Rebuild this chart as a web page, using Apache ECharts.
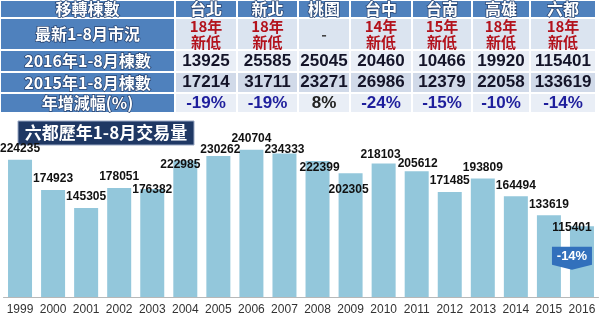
<!DOCTYPE html>
<html>
<head>
<meta charset="utf-8">
<script src="https://cdn.jsdelivr.net/npm/echarts@6/dist/echarts.min.js"></script>
<style>html,body{margin:0;padding:0;background:#fff;}#c{width:600px;height:318px;}</style>
</head>
<body>
<div id="c"></div>
<script>
// ---- table data ----
var rowLabels = ['移轉棟數', '最新1-8月市況', '2016年1-8月棟數', '2015年1-8月棟數', '年增減幅(%)'];
var cities = ['台北', '新北', '桃園', '台中', '台南', '高雄', '六都'];
var marketStatus = ['18年\n新低', '18年\n新低', '-', '14年\n新低', '15年\n新低', '18年\n新低', '18年\n新低'];
var units2016 = [13925, 25585, 25045, 20460, 10466, 19920, 115401];
var units2015 = [17214, 31711, 23271, 26986, 12379, 22058, 133619];
var yoyChange = ['-19%', '-19%', '8%', '-24%', '-15%', '-10%', '-14%'];

// ---- chart data ----
var chartTitle = '六都歷年1-8月交易量';
var years = ['1999','2000','2001','2002','2003','2004','2005','2006','2007','2008','2009','2010','2011','2012','2013','2014','2015','2016'];
var volumes = [224235,174923,145305,178051,176382,222985,230262,240704,234333,222399,202305,218103,205612,171485,193809,164494,133619,115401];

// ---- layout / style (not data) ----
var labelNudge = [[0,0],[0,0],[0,0],[0,0],[0,12],[-5,15],[2,5],[0,0],[0,7],[2,18],[-2,27],[-3,2],[1,4],[0,0],[0,0],[0,0],[0,0],[-10,12]];
var colEdges = [0, 175, 237, 298, 350, 412, 472, 530, 596];
var rowEdges = [0, 18, 50, 72, 93, 113];
var rowFill = ['#4f81bd', '#dbe4f0', '#e9eef6', '#d1dae9', '#e9eef6'];
var headBlue = '#4f81bd';
var cjk = '"Noto Sans CJK TC","Noto Sans CJK SC",sans-serif';
var latin = '"Liberation Sans",Arial,sans-serif';

var graphics = [];
function cellRect(c, r, fill) {
  graphics.push({type:'rect', silent:true, shape:{x:colEdges[c]+1, y:rowEdges[r]+1, width:colEdges[c+1]-colEdges[c]-2, height:rowEdges[r+1]-rowEdges[r]-2}, style:{fill:fill}});
}
function cellText(c, r, text, style) {
  var s = {text:text, x:(colEdges[c]+colEdges[c+1])/2, y:(rowEdges[r]+rowEdges[r+1])/2, align:'center', verticalAlign:'middle'};
  for (var k in style) s[k] = style[k];
  graphics.push({type:'text', silent:true, z:10, style:s});
}
var whiteLabel = {font:'bold 16px ' + cjk, fill:'#ffffff', stroke:'#2a4572', lineWidth:1.5};
for (var r = 0; r < rowLabels.length; r++) {
  cellRect(0, r, headBlue);
  cellText(0, r, rowLabels[r], whiteLabel);
  for (var c = 0; c < cities.length; c++) {
    cellRect(c+1, r, r === 0 ? headBlue : rowFill[r]);
  }
}
for (var c = 0; c < cities.length; c++) {
  cellText(c+1, 0, cities[c], whiteLabel);
  var ms = marketStatus[c];
  cellText(c+1, 1, ms, {font:'bold 15px ' + cjk, fill: ms === '-' ? '#444444' : '#b3121c', lineHeight:16});
  cellText(c+1, 2, String(units2016[c]), {font:'bold 17px ' + latin, fill:'#141428'});
  cellText(c+1, 3, String(units2015[c]), {font:'bold 17px ' + latin, fill:'#141428'});
  var neg = yoyChange[c].charAt(0) === '-';
  cellText(c+1, 4, yoyChange[c], {font:'bold 17px ' + latin, fill: neg ? '#1e1e9c' : '#222222'});
}
// chart title box
graphics.push({type:'rect', silent:true, shape:{x:18, y:121, width:176, height:24}, style:{fill:'#1f3864', stroke:'#9aa8c4', lineWidth:1}});
graphics.push({type:'text', silent:true, z:10, style:{text:chartTitle, x:106, y:133, align:'center', verticalAlign:'middle', font:'bold 17px ' + cjk, fill:'#ffffff'}});

var barData = volumes.map(function (v, i) {
  return {value: v, label: {offset: labelNudge[i]}};
});

var chart = echarts.init(document.getElementById('c'), null, {renderer:'canvas'});
chart.setOption({
  backgroundColor: '#ffffff',
  animation: false,
  graphic: graphics,
  grid: {left: 3.5, right: 1.5, top: 144, bottom: 21, containLabel: false},
  xAxis: {
    type: 'category', data: years,
    axisLine: {lineStyle: {color: '#b8b8b8'}},
    axisTick: {show: false},
    axisLabel: {color: '#333', fontSize: 12, fontFamily: latin, margin: 7, interval: 0}
  },
  yAxis: {type: 'value', min: 0, max: 250000, show: false, splitLine: {show: false}},
  series: [{
    type: 'bar',
    data: barData,
    barWidth: 24,
    itemStyle: {color: '#93c7db'},
    label: {show: true, position: 'top', color: '#111', fontWeight: 'bold', fontSize: 12, fontFamily: latin},
    markPoint: {
      symbol: 'path://M0,0 L40,0 L40,18 L20,23 L0,18 Z',
      symbolSize: [40, 23],
      symbolKeepAspect: false,
      itemStyle: {color: '#3270bc'},
      label: {show: true, color: '#ffffff', fontWeight: 'bold', fontSize: 13, fontFamily: latin, offset: [0, -2]},
      data: [{coord: [years[years.length-1], volumes[volumes.length-1]], symbolOffset: [-10, 32], value: yoyChange[yoyChange.length-1]}]
    }
  }]
});
</script>
</body>
</html>
